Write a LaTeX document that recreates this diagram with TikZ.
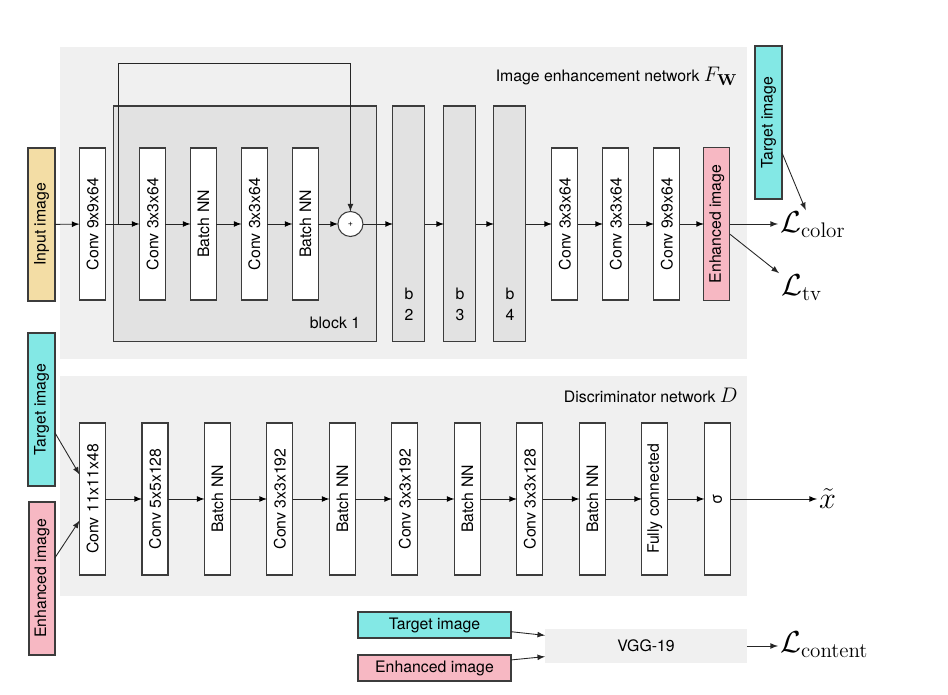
\documentclass[tikz,border=0pt]{standalone}
\usepackage[no-math]{fontspec}
\setmainfont{TeX Gyre Heros}
\usepackage{amsmath}
\usepackage{graphicx}
\usepackage{xcolor}
\usetikzlibrary{positioning,arrows}
\definecolor{panelgray}{HTML}{F0F0F0}
\definecolor{blockgray}{HTML}{E2E2E2}
\definecolor{edgegray}{HTML}{3C3C3C}
\definecolor{inputyellow}{HTML}{F3DDA5}
\definecolor{targetcyan}{HTML}{83E8E5}
\definecolor{enhpink}{HTML}{F7B8C3}
\newcommand{\rotlbl}[1]{\rotatebox{90}{#1}}
\tikzset{%
netlayer/.style={draw=edgegray,fill=white,line width=0.6pt,minimum width=0.52cm,minimum height=3.04cm,inner sep=0,outer sep=0,font=\fontsize{9}{11}\selectfont},
imgbox/.style={netlayer,minimum width=0.54cm,minimum height=3.06cm},
flatimg/.style={draw=edgegray,line width=0.6pt,minimum width=3.06cm,minimum height=0.52cm,inner sep=0,outer sep=0,font=\fontsize{9}{11}\selectfont},
resblock/.style={netlayer,fill=blockgray,minimum width=0.64cm,minimum height=4.72cm},
sumnode/.style={draw=edgegray,fill=white,circle,line width=0.6pt,minimum size=0.5cm,inner sep=0,outer sep=0,font=\tiny},
loss/.style={inner sep=1pt,font=\fontsize{18}{21}\selectfont},
nettitle/.style={inner sep=0,font=\fontsize{9}{12}\selectfont},
flow/.style={-latex,line width=0.5pt,draw=black!85}
}
\begin{document}
\begin{tikzpicture}[x=0.02cm,y=-0.02cm]
    \useasboundingbox (0,0) rectangle (948,695);
    \fill[panelgray] (60,47) rectangle (747,359);
    \fill[panelgray] (60,376) rectangle (747,596);

    % image enhancement network
    \node[nettitle,anchor=base east] (gtitle) at (738,82) {Image enhancement network {\fontsize{13}{15}\selectfont$F_{\mathbf{W}}$}};

    \node[imgbox,fill=inputyellow] (input) at (41.5,224.5) {\rotlbl{Input image}};
    \node[netlayer] (conv1) at (92.5,224) {\rotlbl{Conv 9x9x64}};
    \node[resblock,minimum width=5.26cm] (block1) [right=0.16cm of conv1] {};
    \node[nettitle] (blk1lbl) [above left=0.26cm and 0.32cm of block1.south east] {block 1};
    \node[netlayer] (conv2) [right=0.68cm of conv1] {\rotlbl{Conv 3x3x64}};
    \node[netlayer] (bn1) [right=0.5cm of conv2] {\rotlbl{Batch NN}};
    \node[netlayer] (conv3) [right=0.5cm of bn1] {\rotlbl{Conv 3x3x64}};
    \node[netlayer] (bn2) [right=0.5cm of conv3] {\rotlbl{Batch NN}};
    \node[sumnode] (plus) [right=0.39cm of bn2] {+};

    \node[resblock] (b2) [right=0.6cm of plus] {};
    \node[resblock] (b3) [right=0.38cm of b2] {};
    \node[resblock] (b4) [right=0.36cm of b3] {};
    \node[nettitle,align=center] (b2lbl) [above=0.42cm of b2.south] {b\\2};
    \node[nettitle,align=center] (b3lbl) [above=0.42cm of b3.south] {b\\3};
    \node[nettitle,align=center] (b4lbl) [above=0.42cm of b4.south] {b\\4};

    \node[netlayer] (conv4) [right=0.52cm of b4] {\rotlbl{Conv 3x3x64}};
    \node[netlayer] (conv5) [right=0.5cm of conv4] {\rotlbl{Conv 3x3x64}};
    \node[netlayer] (conv6) [right=0.5cm of conv5] {\rotlbl{Conv 9x9x64}};
    \node[imgbox,fill=enhpink,minimum width=0.52cm] (enh) [right=0.48cm of conv6] {\rotlbl{Enhanced image}};
    \node[imgbox,fill=targetcyan] (tgt1) at (768.5,122.5) {\rotlbl{Target image}};

    \node[loss,anchor=base west] (lcolor) at (778,233) {$\mathcal{L}_{\mathrm{color}}$};
    \node[loss,anchor=base west] (ltv) at (779,296) {$\mathcal{L}_{\mathrm{tv}}$};

    \coordinate (split) at ([xshift=0.26cm]conv1.east);
    \coordinate (skiptop) at ([yshift=3.22cm]split);

    \path[flow] (input) edge (conv1)
                (conv1) edge (conv2)
                (conv2) edge (bn1)
                (bn1) edge (conv3)
                (conv3) edge (bn2)
                (bn2) edge (plus)
                (plus) edge (b2)
                (b2) edge (b3)
                (b3) edge (b4)
                (b4) edge (conv4)
                (conv4) edge (conv5)
                (conv5) edge (conv6)
                (conv6) edge (enh);
    \draw[flow] (split) -- (skiptop) -| (plus.north);
    \draw[flow] (enh.east) -- (enh.east -| lcolor.west);
    \draw[flow] (tgt1.-66) -- ([xshift=-4pt]lcolor.north);
    \draw[flow] (enh.-38) -- (ltv.north west);

    % discriminator network
    \node[nettitle,anchor=base east] (dtitle) at (738,403) {Discriminator network {\fontsize{13}{15}\selectfont$D$}};

    \node[imgbox,fill=targetcyan] (tgt2) at (41.5,409.5) {\rotlbl{Target image}};
    \node[imgbox,fill=enhpink,minimum width=0.52cm] (enh2) at (42,578.5) {\rotlbl{Enhanced image}};

    \node[netlayer] (dc1) at (92.5,499) {\rotlbl{Conv 11x11x48}};
    \node[netlayer] (dc2) [right=0.73cm of dc1] {\rotlbl{Conv 5x5x128}};
    \node[netlayer] (dbn1) [right=0.73cm of dc2] {\rotlbl{Batch NN}};
    \node[netlayer] (dc3) [right=0.73cm of dbn1] {\rotlbl{Conv 3x3x192}};
    \node[netlayer] (dbn2) [right=0.73cm of dc3] {\rotlbl{Batch NN}};
    \node[netlayer] (dc4) [right=0.73cm of dbn2] {\rotlbl{Conv 3x3x192}};
    \node[netlayer] (dbn3) [right=0.73cm of dc4] {\rotlbl{Batch NN}};
    \node[netlayer] (dc5) [right=0.73cm of dbn3] {\rotlbl{Conv 3x3x128}};
    \node[netlayer] (dbn4) [right=0.73cm of dc5] {\rotlbl{Batch NN}};
    \node[netlayer] (dfc) [right=0.73cm of dbn4] {\rotlbl{Fully connected}};
    \node[netlayer] (dsig) [right=0.73cm of dfc] {\rotlbl{σ}};
    \node[loss,anchor=west] (xt) at (817,499) {$\tilde{x}$};

    \path[flow] (dc1) edge (dc2)
                (dc2) edge (dbn1)
                (dbn1) edge (dc3)
                (dc3) edge (dbn2)
                (dbn2) edge (dc4)
                (dc4) edge (dbn3)
                (dbn3) edge (dc5)
                (dc5) edge (dbn4)
                (dbn4) edge (dfc)
                (dfc) edge (dsig)
                (dsig) edge (xt);
    \draw[flow] (tgt2.-60) -- (dc1.118);
    \draw[flow] (enh2.58) -- (dc1.239);

    % content loss
    \node[flatimg,fill=targetcyan] (tgt3) at (434.5,625) {Target image};
    \node[flatimg,fill=enhpink] (enh3) [below=0.34cm of tgt3] {Enhanced image};
    \node[fill=panelgray,minimum width=4.04cm,minimum height=0.68cm,inner sep=0,outer sep=0,font=\fontsize{9}{11}\selectfont] (vgg) at (646,646) {VGG-19};
    \node[loss,anchor=base west] (lcontent) at (778,653) {$\mathcal{L}_{\mathrm{content}}$};

    \draw[flow] (tgt3.-5) -- (vgg.174);
    \draw[flow] (enh3.6) -- (vgg.186);
    \draw[flow] (vgg.east) -- (vgg.east -| lcontent.west);
  \end{tikzpicture}
\end{document}
